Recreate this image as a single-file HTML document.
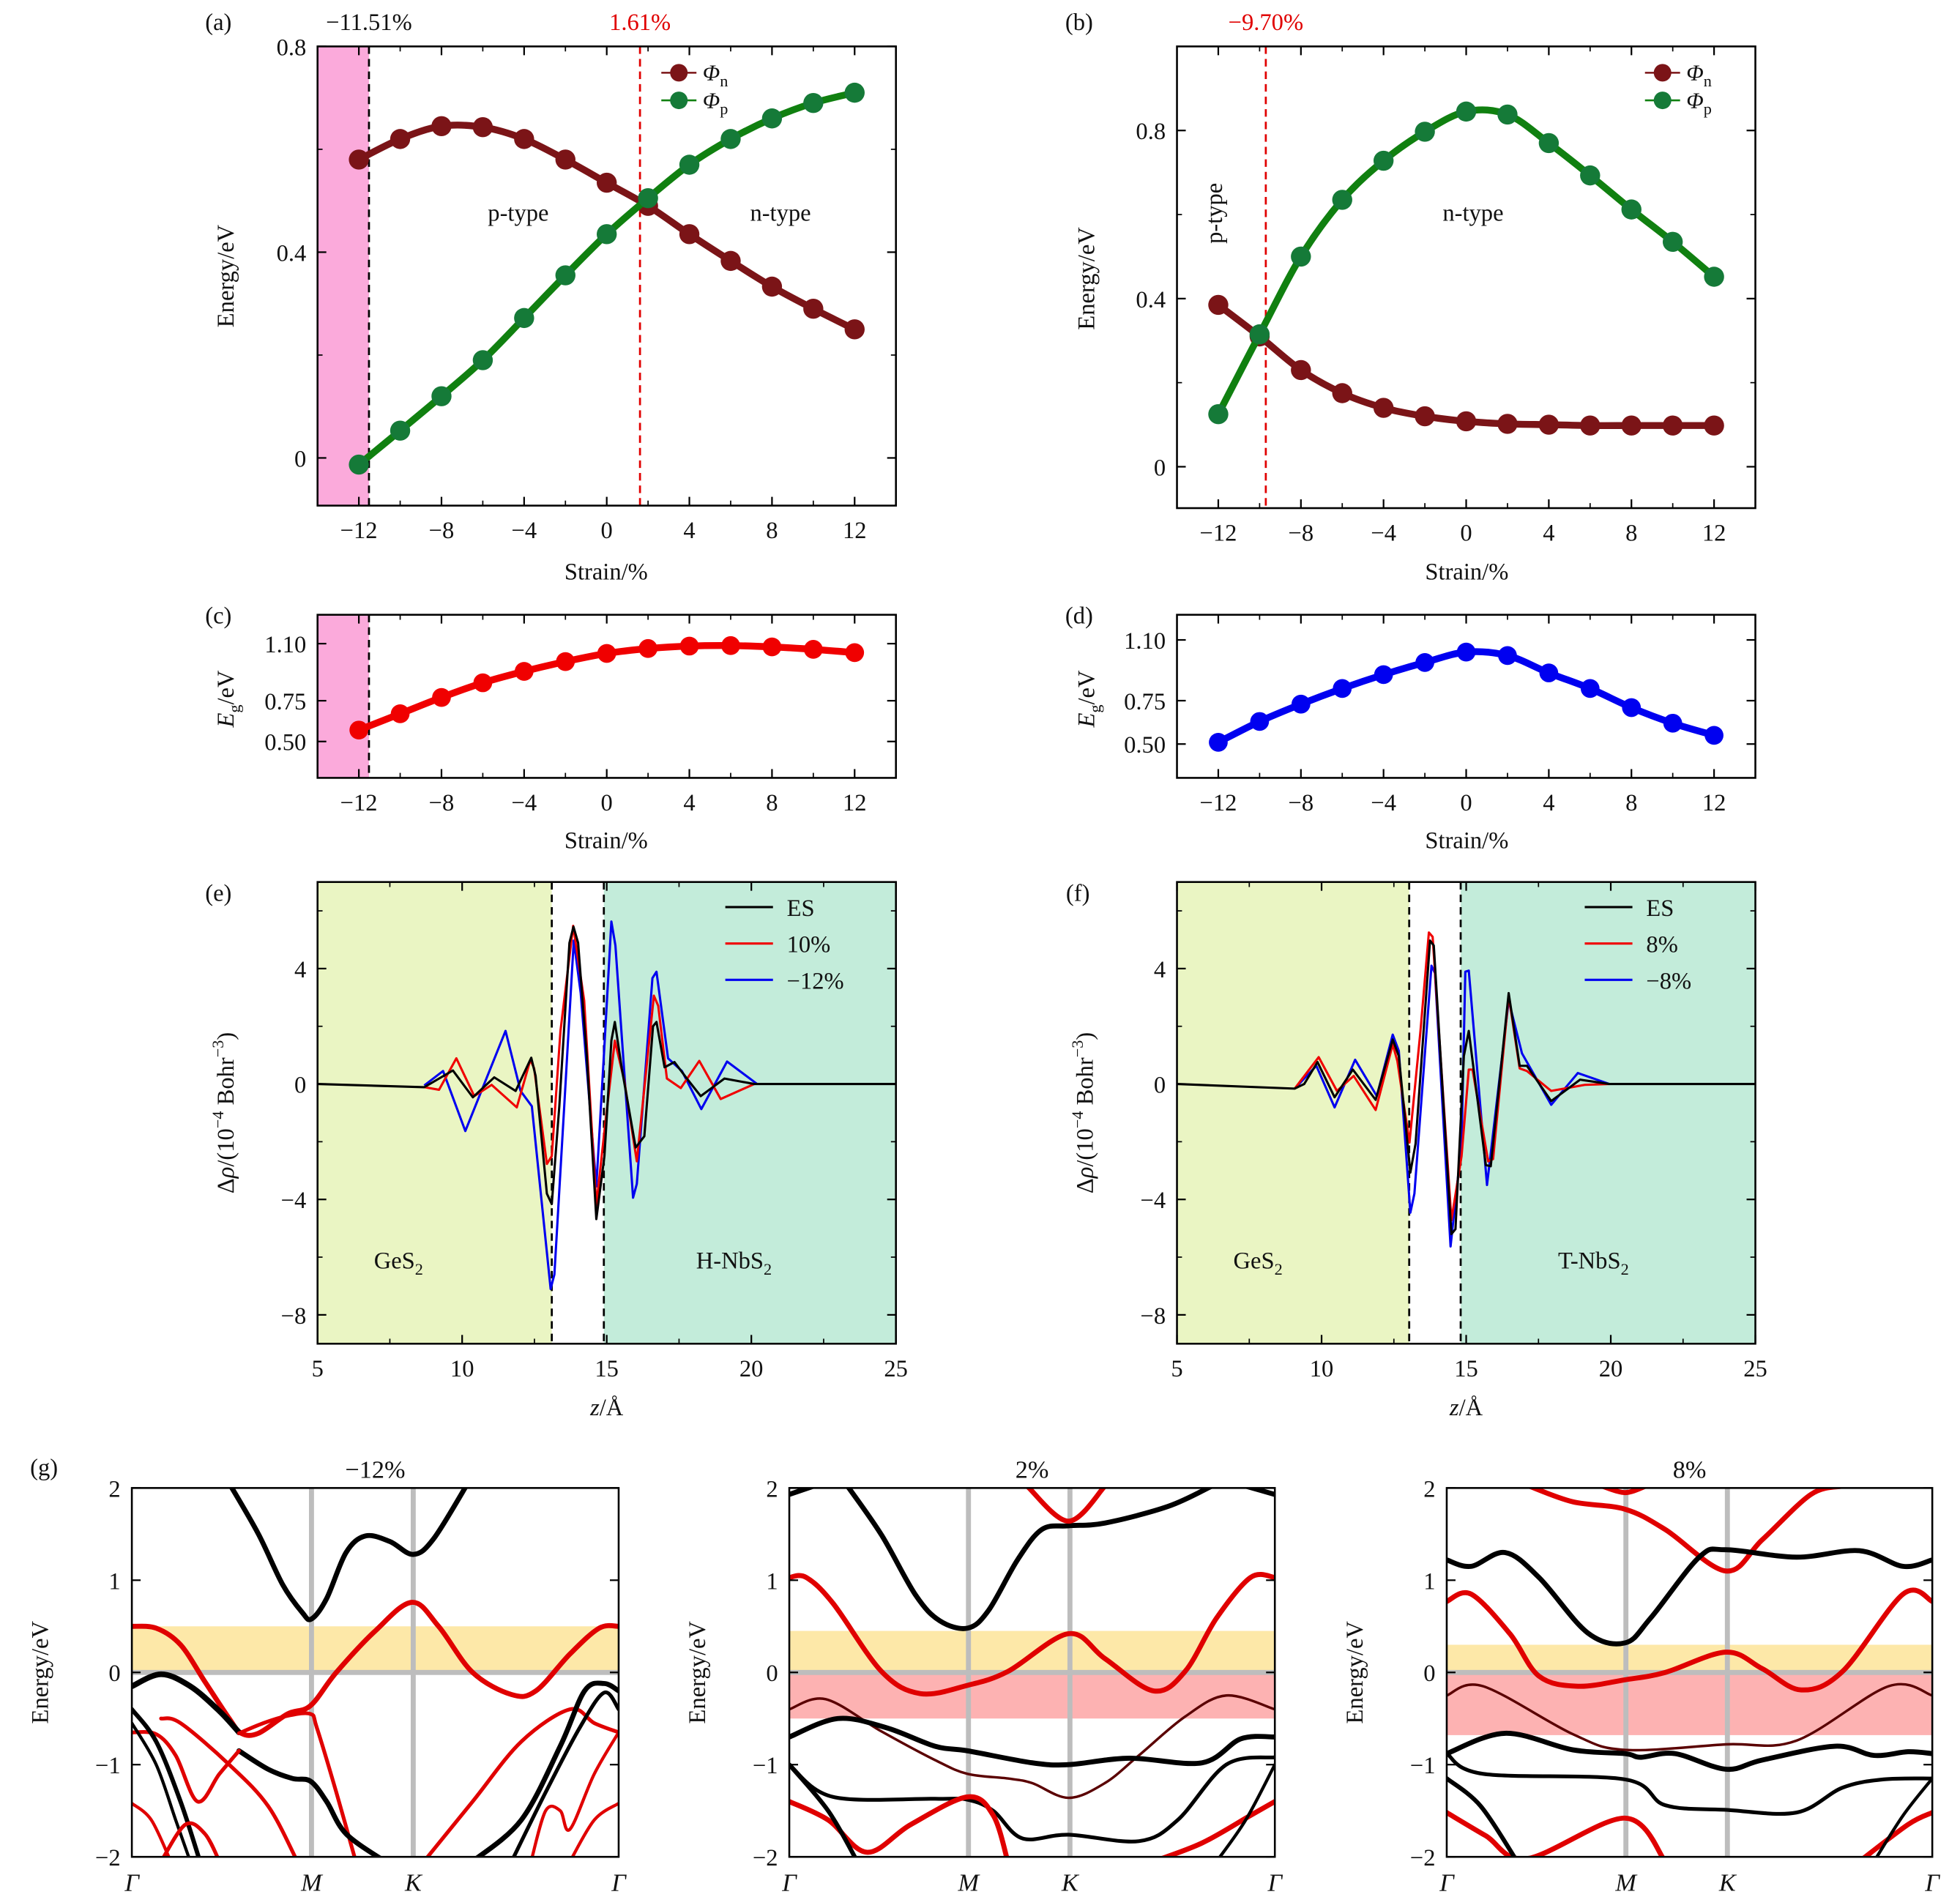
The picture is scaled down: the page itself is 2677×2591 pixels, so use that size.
<!DOCTYPE html>
<html><head><meta charset="utf-8"><style>
html,body{margin:0;padding:0;background:#fff;}
svg{display:block;}
text{font-family:"Liberation Serif",serif;}
</style></head><body>
<svg id="fig" xmlns="http://www.w3.org/2000/svg" width="2677" height="2591" viewBox="0 0 1562 1512">
<defs>
<clipPath id="clipG1"><rect x="105" y="1186" width="388" height="294"/></clipPath>
<clipPath id="clipG2"><rect x="629" y="1186" width="387" height="294"/></clipPath>
<clipPath id="clipG3"><rect x="1153" y="1186" width="387" height="294"/></clipPath>
</defs>
</svg>
<script>
// ---------- DATA ----------
const strain = [-12,-10,-8,-6,-4,-2,0,2,4,6,8,10,12];
const aPhiN = [0.58,0.62,0.645,0.643,0.62,0.58,0.535,0.49,0.435,0.383,0.333,0.29,0.25];
const aPhiP = [-0.013,0.053,0.12,0.19,0.272,0.355,0.435,0.505,0.57,0.62,0.66,0.69,0.71];
const bPhiN = [0.385,0.31,0.23,0.175,0.14,0.12,0.108,0.102,0.1,0.098,0.098,0.098,0.098];
const bPhiP = [0.125,0.315,0.5,0.635,0.728,0.797,0.845,0.838,0.77,0.693,0.612,0.535,0.452];
const cEg = [0.57,0.67,0.77,0.86,0.93,0.99,1.04,1.07,1.085,1.088,1.08,1.065,1.045];
const dEg = [0.51,0.63,0.73,0.82,0.9,0.97,1.03,1.01,0.91,0.82,0.71,0.62,0.55];
const strainTicks = [-12,-8,-4,0,4,8,12];
const aCrit = [-11.51, 1.61];
const bCrit = [-9.70];

const eZ_ES = [5,8.69,9.68,10.37,11.11,11.85,12.39,12.54,12.93,13.1,13.36,13.71,13.85,14.01,14.31,14.64,14.92,15.16,15.28,15.52,16.0,16.3,16.6,16.72,17.0,17.34,17.77,18.25,19.07,20.1,25];
const eV_ES = [0,-0.11,0.47,-0.46,0.23,-0.24,0.91,0.28,-3.8,-4.16,-0.77,4.89,5.45,4.89,0.97,-4.68,-2.5,1.5,2.15,0.54,-2.2,-1.81,2.0,2.15,0.58,0.76,0.19,-0.42,0.19,0,0];
const eZ_P = [8.69,9.2,9.8,10.42,11.02,11.89,12.36,12.49,12.93,13.1,13.4,13.84,14.22,14.64,14.92,15.28,15.61,16.04,16.63,16.78,17.08,17.56,18.2,18.94,20.1];
const eV_P = [-0.11,-0.2,0.89,-0.42,-0.03,-0.81,0.84,0.54,-2.77,-2.5,1.84,5.48,2.89,-4.2,-1.63,1.5,0.1,-2.68,3.06,2.71,0.19,-0.14,0.8,-0.52,0];
const eZ_M = [8.69,9.34,10.11,11.5,12.02,12.41,13.06,13.19,13.53,13.86,14.1,14.64,14.9,15.16,15.3,15.91,16.04,16.58,16.72,17.12,17.6,18.27,19.16,20.2];
const eV_M = [-0.05,0.45,-1.63,1.84,-0.24,-0.77,-7.1,-6.6,-0.77,4.97,3.15,-3.55,0.97,5.63,4.8,-3.94,-3.46,3.67,3.89,0.89,0.45,-0.87,0.78,0];

const fZ_ES = [5,9.07,9.4,9.86,10.45,11.08,11.87,12.46,12.67,13.07,13.25,13.75,13.88,14.49,14.63,14.92,15.09,15.68,15.85,16.47,16.85,17.1,17.94,18.94,19.95,25];
const fV_ES = [0,-0.16,0,0.76,-0.46,0.5,-0.55,1.54,0.97,-3.07,-2.07,4.97,4.8,-5.2,-5.03,0.97,1.84,-2.81,-2.85,3.15,0.63,0.63,-0.59,0.15,0,0];
const fZ_P = [9.07,9.9,10.53,11.11,11.87,12.46,12.62,13.04,13.42,13.71,13.84,14.49,14.84,15.09,15.22,15.76,15.93,16.47,16.85,17.1,17.94,19.1,19.95];
const fV_P = [-0.16,0.93,-0.24,0.28,-0.9,1.37,0.8,-2.03,1.84,5.25,5.1,-4.72,-2.5,0.5,0.5,-2.68,-2.6,3.06,0.54,0.45,-0.24,-0.03,0];
const fZ_M = [9.07,9.82,10.45,11.16,11.91,12.46,12.67,13.07,13.21,13.8,13.92,14.46,14.84,14.97,15.09,15.72,16.47,16.93,17.94,18.86,19.95];
const fV_M = [-0.16,0.63,-0.81,0.84,-0.42,1.71,1.15,-4.46,-3.8,4.1,3.84,-5.63,-2.07,3.89,3.93,-3.5,2.89,1.06,-0.72,0.38,0];
const zTicks = [5,10,15,20,25];
const rhoTicks = [-8,-4,0,4];

// band structures: [k (0..1 along path), E (eV)]
const g1Bands = [
 ['#000',4,[[.2,2.05],[.26,1.5],[.31,0.95],[.35,0.65],[.369,0.58],[.4,0.8],[.44,1.3],[.48,1.48],[.53,1.42],[.578,1.28],[.62,1.45],[.69,2.05]]],
 ['#e00000',4,[[0,0.5],[.05,0.48],[.1,0.3],[.15,-0.1],[.2,-0.5],[.225,-0.66],[.26,-0.66],[.32,-0.45],[.367,-0.36],[.42,0.0],[.5,0.45],[.575,0.76],[.63,0.5],[.7,0.0],[.78,-0.24],[.83,-0.2],[.9,0.2],[.96,0.48],[1,0.5]]],
 ['#000',4.5,[[0,-0.15],[.06,-0.02],[.12,-0.15],[.18,-0.42],[.22,-0.65]]],
 ['#e00000',3,[[.22,-0.66],[.27,-0.55],[.32,-0.47],[.367,-0.45],[.38,-0.6],[.42,-1.3],[.46,-2.05]]],
 ['#000',4,[[.22,-0.85],[.28,-1.05],[.33,-1.15],[.367,-1.18],[.4,-1.4],[.44,-1.75],[.52,-2.05]]],
 ['#e00000',3,[[0,-0.65],[.05,-0.67],[.09,-0.9],[.135,-1.4],[.18,-1.1],[.22,-0.85]]],
 ['#e00000',3,[[.06,-0.5],[.1,-0.55],[.2,-1.0],[.28,-1.45],[.34,-2.05]]],
 ['#000',3.5,[[0,-0.4],[.05,-0.75],[.1,-1.4],[.14,-2.05]]],
 ['#000',2.5,[[0,-0.55],[.05,-1.0],[.09,-1.6],[.12,-2.05]]],
 ['#e00000',2.5,[[0,-1.42],[.04,-1.6],[.08,-2.05]]],
 ['#e00000',3,[[.06,-2.05],[.11,-1.65],[.15,-1.75],[.18,-2.05]]],
 ['#e00000',3,[[.6,-2.05],[.7,-1.4],[.8,-0.75],[.9,-0.4],[.95,-0.55],[1,-0.65]]],
 ['#000',4,[[.7,-2.05],[.8,-1.6],[.88,-0.8],[.93,-0.2],[.97,-0.12],[1,-0.2]]],
 ['#000',3,[[.78,-2.05],[.85,-1.3],[.92,-0.6],[.97,-0.22],[1,-0.4]]],
 ['#e00000',2.5,[[.82,-2.05],[.85,-1.5],[.88,-1.5],[.9,-1.7],[.95,-1.1],[1,-0.65]]],
 ['#e00000',2.5,[[.9,-2.05],[.95,-1.6],[1,-1.42]]]
];
const g2Bands = [
 ['#000',4,[[0,1.93],[.05,2.02]]],
 ['#000',4,[[.94,2.02],[1,1.93]]],
 ['#000',4,[[.12,2.02],[.19,1.49],[.26,0.84],[.31,0.56],[.367,0.48],[.41,0.67],[.47,1.22],[.52,1.55],[.575,1.59],[.65,1.62],[.78,1.8],[.87,2.02]]],
 ['#e00000',4,[[.49,2.02],[.575,1.64],[.65,2.02]]],
 ['#e00000',4,[[0,1.03],[.035,1.03],[.09,0.75],[.19,0.01],[.27,-0.23],[.367,-0.14],[.45,0.01],[.575,0.42],[.65,0.15],[.75,-0.2],[.815,0.01],[.88,0.59],[.95,1.03],[1,1.03]]],
 ['#5a0000',2,[[0,-0.4],[.075,-0.29],[.19,-0.64],[.3,-0.95],[.367,-1.1],[.45,-1.15],[.5,-1.2],[.575,-1.36],[.65,-1.2],[.72,-0.9],[.815,-0.48],[.9,-0.25],[1,-0.4]]],
 ['#000',4,[[0,-0.7],[.1,-0.5],[.2,-0.6],[.3,-0.8],[.367,-0.85],[.5,-0.98],[.575,-1.0],[.7,-0.93],[.85,-0.98],[.93,-0.72],[1,-0.7]]],
 ['#000',3,[[0,-1.0],[.09,-1.35],[.3,-1.37],[.367,-1.38],[.42,-1.5],[.48,-1.8],[.575,-1.76],[.72,-1.83],[.8,-1.6],[.9,-1.0],[1,-0.92]]],
 ['#e00000',4,[[0,-1.4],[.08,-1.6],[.16,-1.95],[.25,-1.65],[.367,-1.35],[.42,-1.55],[.45,-2.05]]],
 ['#e00000',4,[[.75,-2.05],[.85,-1.85],[.95,-1.55],[1,-1.4]]],
 ['#000',3.5,[[0,-1.0],[.08,-1.5],[.14,-2.05]]],
 ['#000',2.5,[[.88,-2.05],[.94,-1.6],[1,-1.0]]]
];
const g3Bands = [
 ['#e00000',4,[[.17,2.02],[.26,1.85],[.367,1.77],[.45,1.55],[.575,1.1],[.65,1.44],[.75,1.93],[.815,2.02]]],
 ['#e00000',4,[[.32,2.02],[.367,1.95],[.41,2.02]]],
 ['#000',4,[[0,1.22],[.05,1.15],[.12,1.3],[.19,1.03],[.29,0.43],[.367,0.32],[.42,0.59],[.52,1.25],[.575,1.33],[.72,1.25],[.85,1.32],[.94,1.15],[1,1.22]]],
 ['#e00000',4,[[0,0.77],[.05,0.85],[.13,0.42],[.19,-0.04],[.27,-0.15],[.367,-0.08],[.45,0],[.575,0.22],[.65,0.04],[.73,-0.19],[.815,0.01],[.94,0.85],[1,0.77]]],
 ['#5a0000',2,[[0,-0.25],[.075,-0.15],[.26,-0.67],[.367,-0.84],[.575,-0.78],[.72,-0.74],[.91,-0.15],[1,-0.25]]],
 ['#000',4,[[0,-0.88],[.12,-0.66],[.26,-0.84],[.367,-0.88],[.4,-0.92],[.47,-0.88],[.575,-1.05],[.65,-0.95],[.8,-0.8],[.88,-0.9],[.95,-0.86],[1,-0.88]]],
 ['#000',3,[[0,-0.88],[.075,-1.1],[.367,-1.16],[.45,-1.44],[.575,-1.49],[.72,-1.52],[.815,-1.25],[.9,-1.16],[1,-1.15]]],
 ['#e00000',4,[[0,-1.52],[.08,-1.77],[.165,-2.02],[.367,-1.58],[.45,-2.05]]],
 ['#e00000',4,[[.85,-2.05],[.95,-1.65],[1,-1.52]]],
 ['#000',3.5,[[0,-1.15],[.07,-1.45],[.145,-2.05]]],
 ['#000',2.5,[[.88,-2.05],[.94,-1.55],[1,-1.15]]]
];
const gTitles = ['\u221212%','2%','8%'];
const gYellowTop = [0.5,0.45,0.3];
const gPinkBottom = [0,-0.5,-0.68];
const energyTicks = [-2,-1,0,1,2];
const kM = 0.369, kK = 0.578;

// ---------- HELPERS ----------
const NS='http://www.w3.org/2000/svg';
const svg=document.getElementById('fig');
function mk(tag,parent){const e=document.createElementNS(NS,tag);(parent||svg).appendChild(e);return e;}
function set(e,o){for(const k in o)e.setAttribute(k,o[k]);return e;}
function scaler(P){return {sx:v=>P.x0+(v-P.xmin)/(P.xmax-P.xmin)*(P.x1-P.x0), sy:v=>P.y1-(v-P.ymin)/(P.ymax-P.ymin)*(P.y1-P.y0)};}
function smooth(pts){let d='M'+pts[0][0].toFixed(2)+','+pts[0][1].toFixed(2);
 for(let i=0;i<pts.length-1;i++){const p0=pts[i-1]||pts[i],p1=pts[i],p2=pts[i+1],p3=pts[i+2]||p2;
  const c1=[p1[0]+(p2[0]-p0[0])/6,p1[1]+(p2[1]-p0[1])/6],c2=[p2[0]-(p3[0]-p1[0])/6,p2[1]-(p3[1]-p1[1])/6];
  d+='C'+c1.map(v=>v.toFixed(2)).join(',')+' '+c2.map(v=>v.toFixed(2)).join(',')+' '+p2.map(v=>v.toFixed(2)).join(',');}
 return d;}
function text(str,x,y,opts){const t=mk('text');t.textContent=str;set(t,{x:x,y:y,'font-size':(opts&&opts.size)||19,'text-anchor':(opts&&opts.anchor)||'middle'});
 t.setAttribute('style','fill:'+((opts&&opts.fill)||'#111'));
 if(opts&&opts.rot)t.setAttribute('transform','rotate(-90 '+x+' '+y+')');if(opts&&opts.italic)t.setAttribute('font-style','italic');return t;}
function frame(P,name,xt,xl,yt,yl,xminor,yminor){
 const S=scaler(P);const g=mk('g');
 
 
 xt.forEach((v,i)=>{const x=S.sx(v);
  set(mk('line',g),{x1:x,x2:x,y1:P.y1,y2:P.y1-7,stroke:'#000','stroke-width':1.3});
  set(mk('line',g),{x1:x,x2:x,y1:P.y0,y2:P.y0+7,stroke:'#000','stroke-width':1.3});
  if(xl){const t=text(xl[i],x,P.y1+26);}});
 xminor.forEach(v=>{const x=S.sx(v);set(mk('line',g),{x1:x,x2:x,y1:P.y1,y2:P.y1-4,stroke:'#000','stroke-width':1});set(mk('line',g),{x1:x,x2:x,y1:P.y0,y2:P.y0+4,stroke:'#000','stroke-width':1});});
 yt.forEach((v,i)=>{const y=S.sy(v);
  set(mk('line',g),{x1:P.x0,x2:P.x0+7,y1:y,y2:y,stroke:'#000','stroke-width':1.3});
  set(mk('line',g),{x1:P.x1,x2:P.x1-7,y1:y,y2:y,stroke:'#000','stroke-width':1.3});
  if(yl){const t=text(yl[i],P.x0-9,y+7,{anchor:'end'});}});
 yminor.forEach(v=>{const y=S.sy(v);set(mk('line',g),{x1:P.x0,x2:P.x0+4,y1:y,y2:y,stroke:'#000','stroke-width':1});set(mk('line',g),{x1:P.x1,x2:P.x1-4,y1:y,y2:y,stroke:'#000','stroke-width':1});});
 const r=set(mk('rect',g),{x:P.x0,y:P.y0,width:P.x1-P.x0,height:P.y1-P.y0,fill:'none',stroke:'#000','stroke-width':1.5});
 
 
 return S;}
function fmtS(v){return v<0?'\u2212'+(-v):''+v;}
function series(S,xs,ys,color,mcolor,name,lw,rad){
 const pts=xs.map((x,i)=>[S.sx(x),S.sy(ys[i])]);
 const p=set(mk('path'),{d:smooth(pts),fill:'none',stroke:color,'stroke-width':lw});
 
 
 pts.forEach(q=>{const c=set(mk('circle'),{cx:q[0],cy:q[1],r:rad,fill:mcolor});
  
  });}
function polyl(S,xs,ys,color,name,lw){
 const p=set(mk('polyline'),{points:xs.map((x,i)=>S.sx(x).toFixed(2)+','+S.sy(ys[i]).toFixed(2)).join(' '),fill:'none',stroke:color,'stroke-width':lw,'stroke-linejoin':'round'});
 
 }
function vdash(S,P,v,color,name){const x=S.sx(v);const l=set(mk('line'),{x1:x,x2:x,y1:P.y0,y2:P.y1,stroke:color,'stroke-width':1.6,'stroke-dasharray':'6,4'});
 
 }
function label(str,x,y,name,opts){const t=text(str,x,y,opts);return t;}
function sub(t,main,subs,italic){t.textContent='';const a=mk('tspan',t);a.textContent=main;if(italic)a.setAttribute('font-style','italic');const b=mk('tspan',t);b.textContent=subs;set(b,{'font-size':13,dy:5});}

const NCOL='#7b1417', PCOL='#108010', PMARK='#157a38';
const xMinorS=[-14,-10,-6,-2,2,6,10,14];

// ---------- PANEL A ----------
const PA={x0:253,x1:714,y0:37,y1:403,xmin:-14,xmax:14,ymin:-0.0927,ymax:0.8};
{const S=scaler(PA);
 const r=set(mk('rect'),{x:PA.x0,y:PA.y0,width:S.sx(aCrit[0])-PA.x0,height:PA.y1-PA.y0,fill:'#fbaadb'});
 
 
 vdash(S,PA,aCrit[0],'#000','critical-line-a-black');
 vdash(S,PA,aCrit[1],'#e00000','critical-line-a-red');
 series(S,strain,aPhiN,NCOL,NCOL,'phi-n-a',5.5,8);
 series(S,strain,aPhiP,PCOL,PMARK,'phi-p-a',5.5,8);
 frame(PA,'panel-a',strainTicks,strainTicks.map(fmtS),[0,0.4,0.8],['0','0.4','0.8'],xMinorS,[0.2,0.6]);
 label('(a)',174,24,'panel-a-label');
 label('\u221211.51%',S.sx(aCrit[0]),24,'crit-a-black-label');
 label('1.61%',S.sx(aCrit[1]),24,'crit-a-red-label',{fill:'#e00000'});
 label('p-type',413,176,'p-type-label-a');
 label('n-type',622,176,'n-type-label-a');
 label('Energy/eV',186,220,'y-axis-title-a',{rot:true});
 label('Strain/%',483,462,'x-axis-title-a');
}
function legendPhi(x,y,name){
 [[NCOL,NCOL,'n'],[PCOL,PMARK,'p']].forEach((L,i)=>{const yy=y+i*22;
  const l=set(mk('line'),{x1:x,x2:x+28,y1:yy,y2:yy,stroke:L[0],'stroke-width':1.5});
  
  
  const c=set(mk('circle'),{cx:x+14,cy:yy,r:7,fill:L[1]});
  
  
  const t=label('',x+33,yy+6,name+'-legend-entry',{anchor:'start',size:18});sub(t,'\u03A6',L[2],true);});}
legendPhi(527,58,'panel-a');

// ---------- PANEL B ----------
const PB={x0:938,x1:1399,y0:37,y1:405,xmin:-14,xmax:14,ymin:-0.0985,ymax:1.0};
{const S=scaler(PB);
 vdash(S,PB,bCrit[0],'#e00000','critical-line-b-red');
 series(S,strain,bPhiN,NCOL,NCOL,'phi-n-b',5.5,8);
 series(S,strain,bPhiP,PCOL,PMARK,'phi-p-b',5.5,8);
 frame(PB,'panel-b',strainTicks,strainTicks.map(fmtS),[0,0.4,0.8],['0','0.4','0.8'],xMinorS,[0.2,0.6]);
 label('(b)',860,24,'panel-b-label');
 label('\u22129.70%',S.sx(bCrit[0]),24,'crit-b-red-label',{fill:'#e00000'});
 label('p-type',974,170,'p-type-label-b',{rot:true});
 label('n-type',1174,176,'n-type-label-b');
 label('Energy/eV',872,222,'y-axis-title-b',{rot:true});
 label('Strain/%',1169,462,'x-axis-title-b');
}
legendPhi(1311,58,'panel-b');

// ---------- PANEL C / D ----------
const PC={x0:253,x1:714,y0:490,y1:620,xmin:-14,xmax:14,ymin:0.277,ymax:1.277};
{const S=scaler(PC);
 const r=set(mk('rect'),{x:PC.x0,y:PC.y0,width:S.sx(aCrit[0])-PC.x0,height:PC.y1-PC.y0,fill:'#fbaadb'});
 
 
 vdash(S,PC,aCrit[0],'#000','critical-line-c');
 series(S,strain,cEg,'#f00000','#f00000','eg-c',5.5,7.5);
 frame(PC,'panel-c',strainTicks,strainTicks.map(fmtS),[0.5,0.75,1.1],['0.50','0.75','1.10'],xMinorS,[]);
 label('(c)',174,497,'panel-c-label');
 const t=label('',186,557,'y-axis-title-c',{rot:true});sub(t,'E','g',true);const t2=mk('tspan',t);t2.textContent='/eV';t2.setAttribute('dy',-5);
 label('Strain/%',483,676,'x-axis-title-c');
}
const PD={x0:938,x1:1399,y0:490,y1:620,xmin:-14,xmax:14,ymin:0.305,ymax:1.245};
{const S=scaler(PD);
 series(S,strain,dEg,'#0000f0','#0000f0','eg-d',5.5,7.5);
 frame(PD,'panel-d',strainTicks,strainTicks.map(fmtS),[0.5,0.75,1.1],['0.50','0.75','1.10'],xMinorS,[]);
 label('(d)',860,497,'panel-d-label');
 const t=label('',872,557,'y-axis-title-d',{rot:true});sub(t,'E','g',true);const t2=mk('tspan',t);t2.textContent='/eV';t2.setAttribute('dy',-5);
 label('Strain/%',1169,676,'x-axis-title-d');
}

// ---------- PANEL E / F ----------
function rhoPanel(P,name,lab,mat,d1,d2,series3,legendTxt){
 const S=scaler(P);
 const r1=set(mk('rect'),{x:P.x0,y:P.y0,width:S.sx(d1)-P.x0,height:P.y1-P.y0,fill:'#eaf5c3'});
 
 
 const r2=set(mk('rect'),{x:S.sx(d2),y:P.y0,width:P.x1-S.sx(d2),height:P.y1-P.y0,fill:'#c3ecda'});
 
 
 vdash(S,P,d1,'#000',name+'-interface-left');
 vdash(S,P,d2,'#000',name+'-interface-right');
 const cols=['#000','#f00000','#0000f0'];
 [2,1,0].forEach(i=>polyl(S,series3[i][0],series3[i][1],cols[i],name+'-curve-'+i,1.8));
 frame(P,name,zTicks,zTicks.map(String),rhoTicks,rhoTicks.map(fmtS),[7.5,12.5,17.5,22.5],[-6,-2,2,6]);
 cols.forEach((c,i)=>{const y=P.y0+20+i*29;
  const l=set(mk('line'),{x1:P.x1-136,x2:P.x1-98,y1:y,y2:y,stroke:c,'stroke-width':1.8});
  
  
  label(legendTxt[i],P.x1-87,y+7,name+'-legend-entry',{anchor:'start'});});
 label(lab,P.x0-79,P.y0+15,name+'-label');
 const g1=label('',S.sx(7.8),1011,name+'-ges2-label');sub(g1,'GeS','2',false);
 const g2=label('',S.sx(19.4),1011,name+'-nbs2-label');sub(g2,mat+'-NbS','2',false);
 const yt=label('',P.x0-67,887,name+'-y-axis-title',{rot:true});
 const a=mk('tspan',yt);a.textContent='\u0394';const b=mk('tspan',yt);b.textContent='\u03C1';b.setAttribute('font-style','italic');
 const c=mk('tspan',yt);c.textContent='/(10';const d=mk('tspan',yt);d.textContent='\u22124';set(d,{dy:-8,'font-size':13});
 const e=mk('tspan',yt);e.textContent=' Bohr';e.setAttribute('dy',8);const f=mk('tspan',yt);f.textContent='\u22123';set(f,{dy:-8,'font-size':13});
 const g=mk('tspan',yt);g.textContent=')';g.setAttribute('dy',8);
 const xt=label('',(P.x0+P.x1)/2,1128,name+'-x-axis-title');const z=mk('tspan',xt);z.textContent='z';z.setAttribute('font-style','italic');const z2=mk('tspan',xt);z2.textContent='/\u00C5';
}
rhoPanel({x0:253,x1:714,y0:703,y1:1071,xmin:5,xmax:25,ymin:-9,ymax:7},'panel-e','(e)','H',13.1,14.9,
 [[eZ_ES,eV_ES],[eZ_P,eV_P],[eZ_M,eV_M]],['ES','10%','\u221212%']);
rhoPanel({x0:938,x1:1399,y0:703,y1:1071,xmin:5,xmax:25,ymin:-9,ymax:7},'panel-f','(f)','T',13.03,14.81,
 [[fZ_ES,fV_ES],[fZ_P,fV_P],[fZ_M,fV_M]],['ES','8%','\u22128%']);

// ---------- PANEL G ----------
const gX0=[105,629,1153], gW=[388,387,387], gBands=[g1Bands,g2Bands,g3Bands];
gBands.forEach((bands,gi)=>{
 const P={x0:gX0[gi],x1:gX0[gi]+gW[gi],y0:1186,y1:1480,xmin:0,xmax:1,ymin:-2,ymax:2};
 const S=scaler(P);const name='band-panel-'+(gi+1);
 const yb=set(mk('rect'),{x:P.x0,y:S.sy(gYellowTop[gi]),width:P.x1-P.x0,height:S.sy(0)-S.sy(gYellowTop[gi]),fill:'#fde8a8'});
 
 
 if(gPinkBottom[gi]<0){const pb=set(mk('rect'),{x:P.x0,y:S.sy(0),width:P.x1-P.x0,height:S.sy(gPinkBottom[gi])-S.sy(0),fill:'#fdb2b2'});
  
  }
 [kM,kK].forEach(k=>{const l=set(mk('line'),{x1:S.sx(k),x2:S.sx(k),y1:P.y0,y2:P.y1,stroke:'#bdbdbd','stroke-width':4});
  
  });
 const l0=set(mk('line'),{x1:P.x0,x2:P.x1,y1:S.sy(0),y2:S.sy(0),stroke:'#bdbdbd','stroke-width':4});
 
 
 const g=mk('g');g.setAttribute('clip-path','url(#clipG'+(gi+1)+')');
 
 
 bands.forEach(b=>{const p=set(mk('path',g),{d:smooth(b[2].map(q=>[S.sx(q[0]),S.sy(q[1])])),fill:'none',stroke:b[0],'stroke-width':b[1],'stroke-linecap':'round'});
  
  });
 frame(P,name,[],null,energyTicks,energyTicks.map(fmtS),[],[]);
 ['\u0393','M','K','\u0393'].forEach((s,i)=>{const x=S.sx([0,kM,kK,1][i]);label(s,x,1507,name+'-k-label',{italic:true,size:20});});
 label(gTitles[gi],(P.x0+P.x1)/2,1178,name+'-title',{size:20});
 label('Energy/eV',P.x0-67,1333,name+'-y-axis-title',{rot:true});
});
label('(g)',35,1176,'panel-g-label');
</script>
</body></html>
